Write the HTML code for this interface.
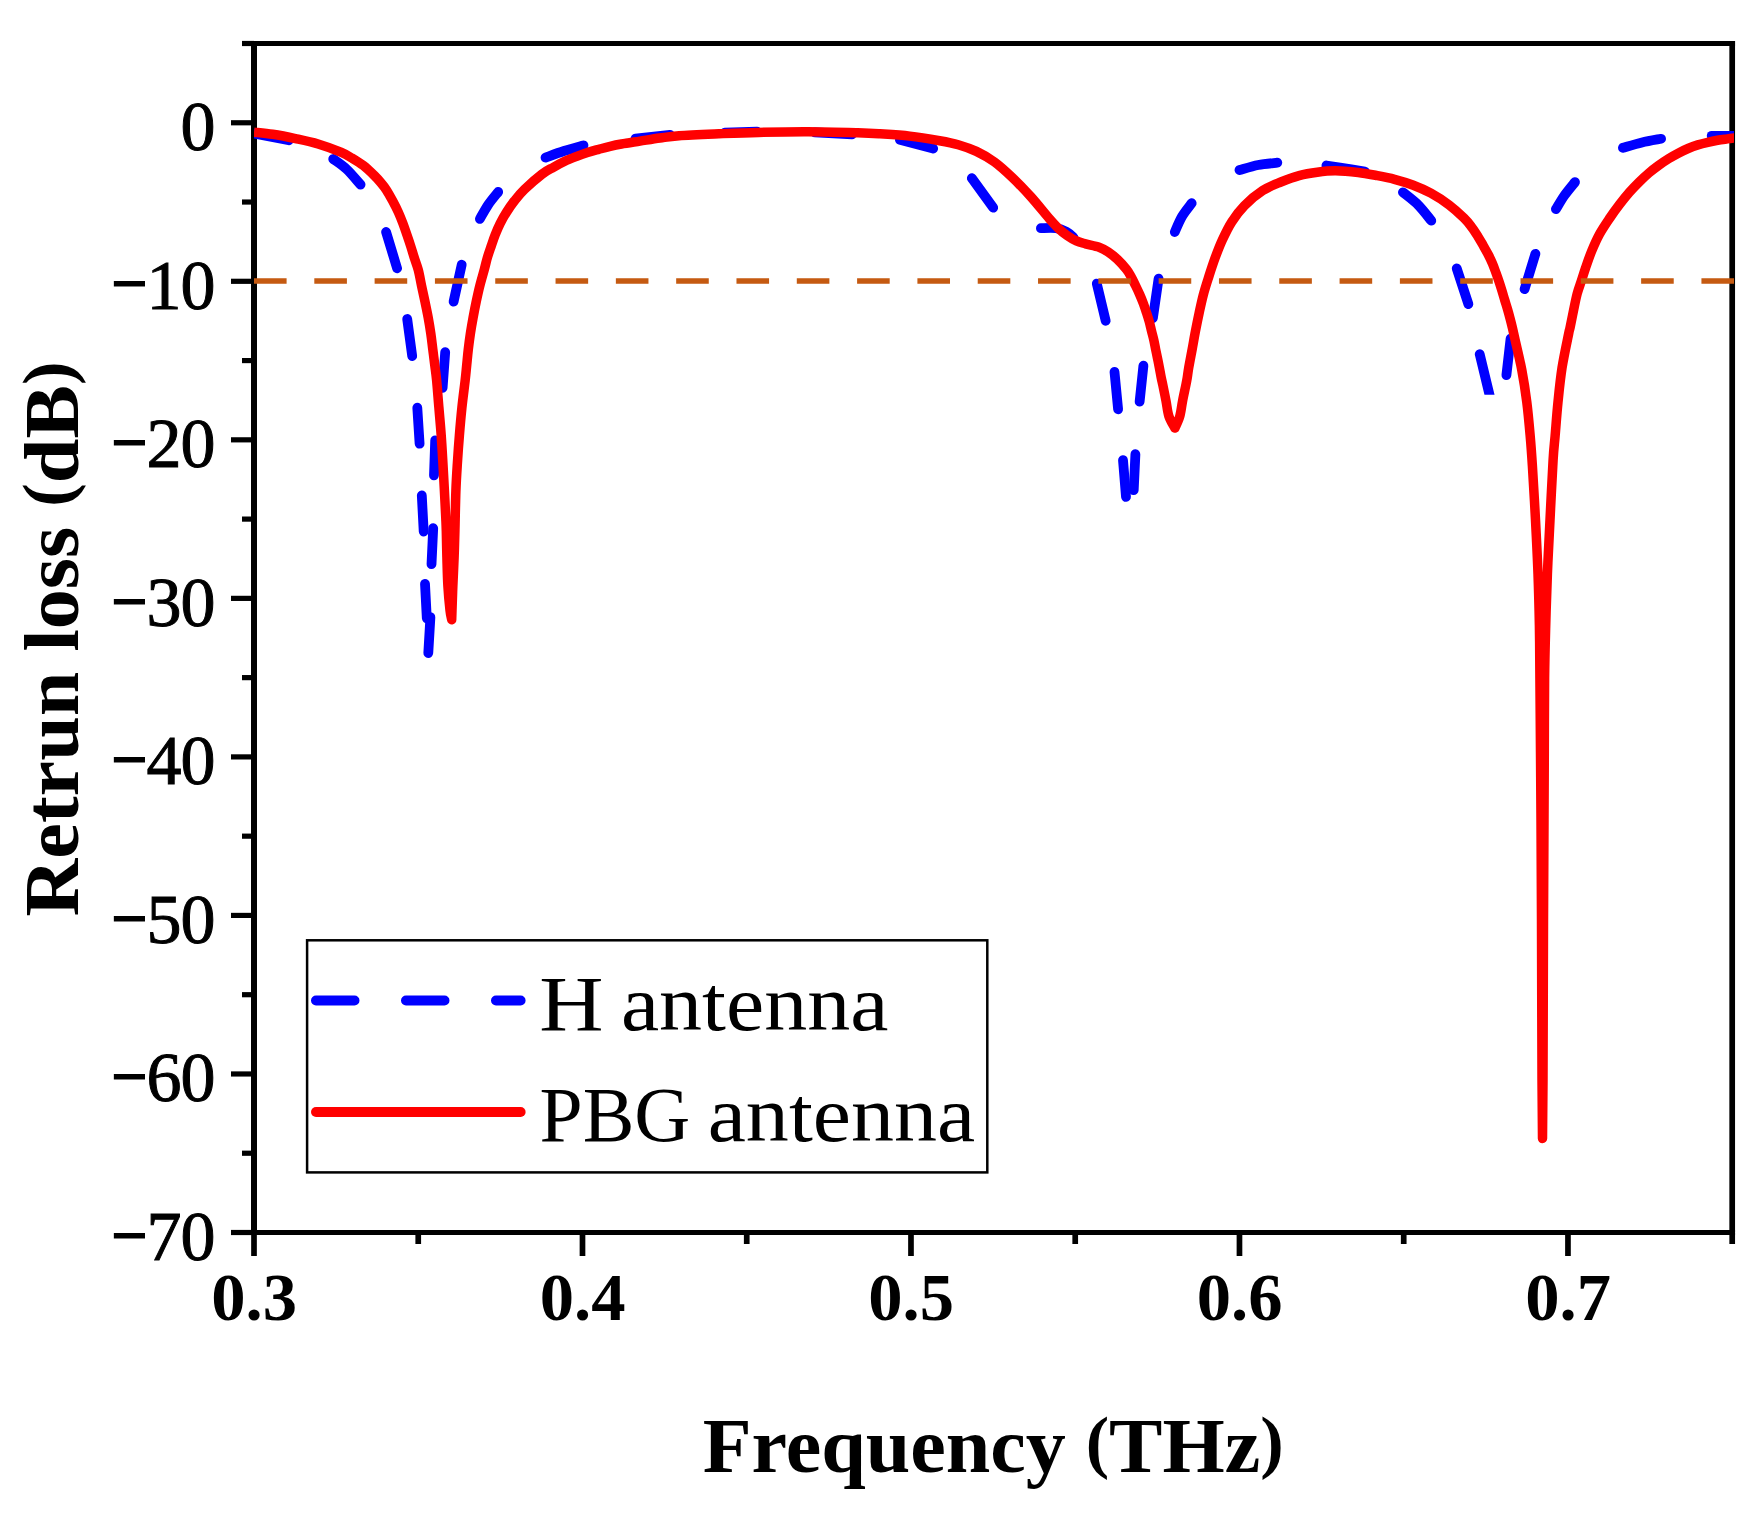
<!DOCTYPE html>
<html lang="en"><head><meta charset="utf-8"><title>Return loss</title>
<style>html,body{margin:0;padding:0;background:#fff}body{width:1763px;height:1518px;overflow:hidden}svg{display:block}text{font-family:"Liberation Serif",serif;fill:#000}</style></head><body>
<svg width="1763" height="1518" viewBox="0 0 1763 1518">
<rect width="1763" height="1518" fill="#fff"/>
<g stroke="#000" stroke-width="5.5" fill="none" stroke-linecap="butt">
<line x1="242.0" y1="43.50" x2="254.0" y2="43.50" stroke-width="5.2"/>
<line x1="231.0" y1="122.77" x2="254.0" y2="122.77" stroke-width="5.2"/>
<line x1="242.0" y1="202.03" x2="254.0" y2="202.03" stroke-width="5.2"/>
<line x1="231.0" y1="281.30" x2="254.0" y2="281.30" stroke-width="5.2"/>
<line x1="242.0" y1="360.57" x2="254.0" y2="360.57" stroke-width="5.2"/>
<line x1="231.0" y1="439.83" x2="254.0" y2="439.83" stroke-width="5.2"/>
<line x1="242.0" y1="519.10" x2="254.0" y2="519.10" stroke-width="5.2"/>
<line x1="231.0" y1="598.37" x2="254.0" y2="598.37" stroke-width="5.2"/>
<line x1="242.0" y1="677.63" x2="254.0" y2="677.63" stroke-width="5.2"/>
<line x1="231.0" y1="756.90" x2="254.0" y2="756.90" stroke-width="5.2"/>
<line x1="242.0" y1="836.17" x2="254.0" y2="836.17" stroke-width="5.2"/>
<line x1="231.0" y1="915.43" x2="254.0" y2="915.43" stroke-width="5.2"/>
<line x1="242.0" y1="994.70" x2="254.0" y2="994.70" stroke-width="5.2"/>
<line x1="231.0" y1="1073.97" x2="254.0" y2="1073.97" stroke-width="5.2"/>
<line x1="242.0" y1="1153.23" x2="254.0" y2="1153.23" stroke-width="5.2"/>
<line x1="231.0" y1="1232.50" x2="254.0" y2="1232.50" stroke-width="5.2"/>
<line x1="254.00" y1="1232.5" x2="254.00" y2="1256.0" stroke-width="5.7"/>
<line x1="418.24" y1="1232.5" x2="418.24" y2="1244.0" stroke-width="5.7"/>
<line x1="582.49" y1="1232.5" x2="582.49" y2="1256.0" stroke-width="5.7"/>
<line x1="746.73" y1="1232.5" x2="746.73" y2="1244.0" stroke-width="5.7"/>
<line x1="910.98" y1="1232.5" x2="910.98" y2="1256.0" stroke-width="5.7"/>
<line x1="1075.22" y1="1232.5" x2="1075.22" y2="1244.0" stroke-width="5.7"/>
<line x1="1239.47" y1="1232.5" x2="1239.47" y2="1256.0" stroke-width="5.7"/>
<line x1="1403.71" y1="1232.5" x2="1403.71" y2="1244.0" stroke-width="5.7"/>
<line x1="1567.96" y1="1232.5" x2="1567.96" y2="1256.0" stroke-width="5.7"/>
<line x1="1732.20" y1="1232.5" x2="1732.20" y2="1244.0" stroke-width="5.7"/>
<line x1="254.00" y1="40.90" x2="254.00" y2="1232.50" stroke-width="6"/>
<line x1="1732.20" y1="40.90" x2="1732.20" y2="1232.50" stroke-width="5.7"/>
<line x1="254.00" y1="43.50" x2="1735.05" y2="43.50" stroke-width="5.2"/>
<line x1="254.00" y1="1232.50" x2="1735.05" y2="1232.50" stroke-width="4.8"/>
</g>
<clipPath id="plot"><rect x="254" y="0" width="1480.1" height="1518"/></clipPath><g clip-path="url(#plot)">
<g stroke="#0000FF" stroke-width="9.8" fill="none" stroke-linecap="round" stroke-linejoin="round">
<path d="M254.0 133.5 L288.9 140.3"/>
<path d="M333.20 159.00 C335.40 160.67 341.83 164.73 346.40 169.00 C350.97 173.27 358.23 182.00 360.60 184.60"/>
<path d="M386.1 232.0 L397.1 268.3"/>
<path d="M407.2 319.0 L412.2 356.1"/>
<path d="M417.3 407.7 L419.6 443.7"/>
<path d="M421.8 495.5 L423.7 531.5"/>
<path d="M425.0 583.8 L426.8 618.3"/>
<path d="M430.4 617.1 L428.3 653.0"/>
<path d="M433.2 528.2 L431.5 564.2"/>
<path d="M435.2 440.4 L434.0 475.3"/>
<path d="M445.2 352.2 L442.6 387.8"/>
<path d="M461.7 264.7 L453.6 301.6"/>
<path d="M498.20 191.90 C496.53 194.03 491.25 200.20 488.20 204.70 C485.15 209.20 481.28 216.53 479.90 218.90"/>
<path d="M545.50 157.60 C548.58 156.50 557.67 153.03 564.00 151.00 C570.33 148.97 580.25 146.33 583.50 145.40"/>
<path d="M635.5 138.6 L670.0 134.9"/>
<path d="M724.8 132.6 L757.0 131.6"/>
<path d="M815.0 132.4 L852.0 134.4"/>
<path d="M899.9 139.7 L933.2 148.6"/>
<path d="M971.8 178.2 L993.2 207.7"/>
<path d="M1040.90 228.20 C1043.42 228.20 1051.73 227.60 1056.00 228.20 C1060.27 228.80 1063.58 230.25 1066.50 231.80 C1069.42 233.35 1072.33 236.55 1073.50 237.50"/>
<path d="M1096.8 283.6 L1105.7 320.8"/>
<path d="M1114.5 371.9 L1118.1 409.3"/>
<path d="M1123.0 460.1 L1126.0 496.9"/>
<path d="M1133.7 490.2 L1135.4 454.2"/>
<path d="M1139.6 401.7 L1143.4 365.7"/>
<path d="M1158.6 278.6 L1152.9 318.0"/>
<path d="M1191.70 203.20 C1190.08 205.42 1184.82 211.70 1182.00 216.50 C1179.18 221.30 1176.00 229.42 1174.80 232.00"/>
<path d="M1239.50 170.00 C1242.62 169.17 1251.90 166.22 1258.20 165.00 C1264.50 163.78 1274.12 163.08 1277.30 162.70"/>
<path d="M1326.40 165.50 C1328.67 165.85 1333.60 166.60 1340.00 167.60 C1346.40 168.60 1360.67 170.85 1364.80 171.50"/>
<path d="M1402.90 192.30 C1405.48 194.45 1413.67 200.47 1418.40 205.20 C1423.13 209.93 1429.15 218.12 1431.30 220.70"/>
<path d="M1456.7 268.4 L1468.4 304.1"/>
<path d="M1506.4 375.1 L1510.6 338.6"/>
<path d="M1524.6 289.1 L1535.4 253.8"/>
<path d="M1555.90 209.20 C1557.32 206.92 1561.22 200.02 1564.40 195.50 C1567.58 190.98 1573.23 184.33 1575.00 182.10"/>
<path d="M1622.90 147.80 C1626.08 146.90 1635.63 143.90 1642.00 142.40 C1648.37 140.90 1657.92 139.40 1661.10 138.80"/>
<path d="M1711.7 135.8 L1740.0 135.8"/>
</g>
<clipPath id="cm"><rect x="1400" y="300" width="200" height="94.7"/></clipPath><path d="M1479.7 354.2 L1489.6 395.2" stroke="#0000FF" stroke-width="9.8" fill="none" stroke-linecap="round" clip-path="url(#cm)"/>
<path d="M254.00 132.10 C257.12 132.47 265.80 133.22 272.70 134.30 C279.60 135.38 287.83 136.98 295.40 138.60 C302.97 140.22 310.53 141.73 318.10 144.00 C325.67 146.27 335.13 149.83 340.80 152.20 C346.47 154.57 348.33 155.97 352.10 158.20 C355.87 160.43 359.62 162.63 363.40 165.60 C367.18 168.57 371.90 173.17 374.80 176.00 C377.70 178.83 378.88 180.30 380.80 182.60 C382.72 184.90 384.33 186.77 386.30 189.80 C388.27 192.83 390.60 197.08 392.60 200.80 C394.60 204.52 396.58 208.33 398.30 212.10 C400.02 215.87 401.47 219.62 402.90 223.40 C404.33 227.18 405.60 231.02 406.90 234.80 C408.20 238.58 409.48 242.32 410.70 246.10 C411.92 249.88 412.93 253.52 414.20 257.50 C415.47 261.48 417.07 265.27 418.30 270.00 C419.53 274.73 420.48 280.60 421.60 285.90 C422.72 291.20 423.90 296.52 425.00 301.80 C426.10 307.08 427.23 312.32 428.20 317.60 C429.17 322.88 430.03 328.20 430.80 333.50 C431.57 338.80 432.13 344.10 432.80 349.40 C433.47 354.70 434.17 360.20 434.80 365.30 C435.43 370.40 435.92 372.93 436.60 380.00 C437.28 387.07 438.13 398.48 438.90 407.70 C439.67 416.92 440.53 426.08 441.20 435.30 C441.87 444.52 442.37 453.77 442.90 463.00 C443.43 472.23 443.92 481.47 444.40 490.70 C444.88 499.93 445.48 511.67 445.80 518.40 C446.12 525.13 446.12 524.58 446.30 531.10 C446.48 537.62 446.63 548.37 446.90 557.50 C447.17 566.63 447.38 577.12 447.90 585.90 C448.42 594.68 449.37 604.57 450.00 610.20 C450.63 615.83 451.42 618.12 451.70 619.70 C451.75 618.12 451.81 615.83 452.00 610.20 C452.19 604.57 452.50 594.68 452.85 585.90 C453.20 577.12 453.76 566.63 454.10 557.50 C454.44 548.37 454.60 542.23 454.90 531.10 C455.20 519.97 455.48 502.05 455.90 490.70 C456.32 479.35 456.82 472.23 457.40 463.00 C457.98 453.77 458.65 444.52 459.40 435.30 C460.15 426.08 460.93 416.92 461.90 407.70 C462.87 398.48 464.40 387.07 465.20 380.00 C466.00 372.93 466.18 370.40 466.70 365.30 C467.22 360.20 467.68 354.70 468.30 349.40 C468.92 344.10 469.60 338.80 470.40 333.50 C471.20 328.20 472.13 322.88 473.10 317.60 C474.07 312.32 475.08 307.08 476.20 301.80 C477.32 296.52 478.45 291.28 479.80 285.90 C481.15 280.52 483.03 274.23 484.30 269.50 C485.57 264.77 486.25 261.40 487.40 257.50 C488.55 253.60 489.90 249.88 491.20 246.10 C492.50 242.32 493.70 238.58 495.20 234.80 C496.70 231.02 498.30 227.18 500.20 223.40 C502.10 219.62 504.22 215.87 506.60 212.10 C508.98 208.33 511.52 204.58 514.50 200.80 C517.48 197.02 519.90 193.85 524.50 189.40 C529.10 184.95 537.28 177.78 542.10 174.10 C546.92 170.42 549.62 169.43 553.40 167.30 C557.18 165.17 561.02 163.08 564.80 161.30 C568.58 159.52 572.32 158.07 576.10 156.60 C579.88 155.13 583.72 153.72 587.50 152.50 C591.28 151.28 595.02 150.33 598.80 149.30 C602.58 148.27 606.42 147.18 610.20 146.30 C613.98 145.42 616.53 144.87 621.50 144.00 C626.47 143.13 633.58 142.10 640.00 141.10 C646.42 140.10 653.48 138.90 660.00 138.00 C666.52 137.10 669.30 136.40 679.10 135.70 C688.90 135.00 705.57 134.35 718.80 133.80 C732.03 133.25 743.60 132.73 758.50 132.40 C773.40 132.07 791.65 131.73 808.20 131.80 C824.75 131.87 845.83 132.47 857.80 132.80 C869.77 133.13 871.33 133.25 880.00 133.80 C888.67 134.35 899.87 134.95 909.80 136.10 C919.73 137.25 931.53 139.27 939.60 140.70 C947.67 142.13 952.07 142.92 958.20 144.70 C964.33 146.48 970.35 148.52 976.40 151.40 C982.45 154.28 988.45 157.58 994.50 162.00 C1000.55 166.42 1006.63 172.10 1012.70 177.90 C1018.77 183.70 1024.83 190.05 1030.90 196.80 C1036.97 203.55 1044.55 213.17 1049.10 218.40 C1053.65 223.63 1055.17 225.33 1058.20 228.20 C1061.23 231.07 1064.27 233.48 1067.30 235.60 C1070.33 237.72 1073.37 239.53 1076.40 240.90 C1079.43 242.27 1081.72 242.75 1085.50 243.80 C1089.28 244.85 1095.32 245.83 1099.10 247.20 C1102.88 248.57 1105.17 249.98 1108.20 252.00 C1111.23 254.02 1114.27 256.42 1117.30 259.30 C1120.33 262.18 1124.13 266.45 1126.40 269.30 C1128.67 272.15 1129.38 273.70 1130.90 276.40 C1132.42 279.10 1134.03 282.48 1135.50 285.50 C1136.97 288.52 1138.38 291.48 1139.70 294.50 C1141.02 297.52 1142.27 300.57 1143.40 303.60 C1144.53 306.63 1145.52 309.67 1146.50 312.70 C1147.48 315.73 1148.47 318.77 1149.30 321.80 C1150.13 324.83 1150.75 327.87 1151.50 330.90 C1152.25 333.93 1153.12 336.97 1153.80 340.00 C1154.48 343.03 1154.98 346.07 1155.60 349.10 C1156.22 352.13 1156.88 355.17 1157.50 358.20 C1158.12 361.23 1158.67 364.00 1159.30 367.30 C1159.93 370.60 1160.70 374.98 1161.30 378.00 C1161.90 381.02 1162.12 381.60 1162.90 385.40 C1163.68 389.20 1165.00 395.67 1166.00 400.80 C1167.00 405.93 1167.42 411.65 1168.90 416.20 C1170.38 420.75 1173.90 426.12 1174.90 428.10 C1175.72 426.12 1178.52 420.75 1179.80 416.20 C1181.08 411.65 1181.60 405.93 1182.60 400.80 C1183.60 395.67 1185.03 389.20 1185.80 385.40 C1186.57 381.60 1186.70 381.02 1187.20 378.00 C1187.70 374.98 1187.97 372.12 1188.80 367.30 C1189.63 362.48 1191.08 355.17 1192.20 349.10 C1193.32 343.03 1194.33 336.97 1195.50 330.90 C1196.67 324.83 1197.88 318.77 1199.20 312.70 C1200.52 306.63 1201.82 300.45 1203.40 294.50 C1204.98 288.55 1206.77 283.05 1208.70 277.00 C1210.63 270.95 1212.73 264.37 1215.00 258.20 C1217.27 252.03 1219.50 246.07 1222.30 240.00 C1225.10 233.93 1228.10 227.53 1231.80 221.80 C1235.50 216.07 1239.35 210.80 1244.50 205.60 C1249.65 200.40 1256.63 194.53 1262.70 190.60 C1268.77 186.67 1274.83 184.50 1280.90 182.00 C1286.97 179.50 1293.03 177.23 1299.10 175.60 C1305.17 173.97 1311.23 173.00 1317.30 172.20 C1323.37 171.40 1328.68 170.75 1335.50 170.80 C1342.32 170.85 1351.38 171.72 1358.20 172.50 C1365.02 173.28 1370.35 174.37 1376.40 175.50 C1382.45 176.63 1388.45 177.72 1394.50 179.30 C1400.55 180.88 1406.63 182.68 1412.70 185.00 C1418.77 187.32 1424.83 189.87 1430.90 193.20 C1436.97 196.53 1443.57 200.83 1449.10 205.00 C1454.63 209.17 1460.32 214.48 1464.10 218.20 C1467.88 221.92 1469.50 224.27 1471.80 227.30 C1474.10 230.33 1476.00 233.37 1477.90 236.40 C1479.80 239.43 1481.48 242.48 1483.20 245.50 C1484.92 248.52 1486.65 251.48 1488.20 254.50 C1489.75 257.52 1491.22 260.57 1492.50 263.60 C1493.78 266.63 1494.80 269.67 1495.90 272.70 C1497.00 275.73 1498.08 278.77 1499.10 281.80 C1500.12 284.83 1501.07 287.87 1502.00 290.90 C1502.93 293.93 1503.78 296.97 1504.70 300.00 C1505.62 303.03 1506.62 306.07 1507.50 309.10 C1508.38 312.13 1509.20 315.17 1510.00 318.20 C1510.80 321.23 1511.52 324.00 1512.30 327.30 C1513.08 330.60 1513.12 330.88 1514.70 338.00 C1516.28 345.12 1519.78 359.32 1521.80 370.00 C1523.82 380.68 1525.40 391.08 1526.80 402.10 C1528.20 413.12 1529.27 425.45 1530.20 436.10 C1531.13 446.75 1531.52 452.02 1532.40 466.00 C1533.28 479.98 1534.57 502.03 1535.50 520.00 C1536.43 537.97 1537.35 556.13 1538.00 573.80 C1538.65 591.47 1539.08 608.63 1539.40 626.00 C1539.72 643.37 1539.72 657.00 1539.90 678.00 C1540.08 699.00 1540.32 728.33 1540.50 752.00 C1540.68 775.67 1540.83 792.00 1541.00 820.00 C1541.17 848.00 1541.33 876.67 1541.50 920.00 C1541.67 963.33 1541.83 1043.58 1542.00 1080.00 C1542.17 1116.42 1542.42 1128.75 1542.50 1138.50 C1542.58 1128.75 1542.83 1116.42 1543.00 1080.00 C1543.17 1043.58 1543.33 963.33 1543.50 920.00 C1543.67 876.67 1543.87 848.00 1544.00 820.00 C1544.13 792.00 1544.20 775.67 1544.30 752.00 C1544.40 728.33 1544.37 699.00 1544.60 678.00 C1544.83 657.00 1545.23 643.37 1545.70 626.00 C1546.17 608.63 1546.68 591.47 1547.40 573.80 C1548.12 556.13 1549.05 538.97 1550.00 520.00 C1550.95 501.03 1552.25 473.98 1553.10 460.00 C1553.95 446.02 1554.28 445.75 1555.10 436.10 C1555.92 426.45 1556.85 413.43 1558.00 402.10 C1559.15 390.77 1560.23 379.45 1562.00 368.10 C1563.77 356.75 1567.25 340.75 1568.60 334.00 C1569.95 327.25 1569.28 331.50 1570.10 327.60 C1570.92 323.70 1572.32 316.27 1573.50 310.60 C1574.68 304.93 1575.88 298.57 1577.20 293.60 C1578.52 288.63 1580.02 285.05 1581.40 280.80 C1582.78 276.55 1583.78 273.07 1585.50 268.10 C1587.22 263.13 1589.35 256.68 1591.70 251.00 C1594.05 245.32 1596.58 239.50 1599.60 234.00 C1602.62 228.50 1606.50 222.88 1609.80 218.00 C1613.10 213.12 1616.15 208.97 1619.40 204.70 C1622.65 200.43 1626.02 196.17 1629.30 192.40 C1632.58 188.63 1635.83 185.33 1639.10 182.10 C1642.37 178.87 1645.63 175.78 1648.90 173.00 C1652.17 170.22 1655.43 167.77 1658.70 165.40 C1661.97 163.03 1665.23 160.83 1668.50 158.80 C1671.77 156.77 1675.03 154.92 1678.30 153.20 C1681.57 151.48 1684.83 149.88 1688.10 148.50 C1691.37 147.12 1694.62 145.93 1697.90 144.90 C1701.18 143.87 1704.52 143.07 1707.80 142.30 C1711.08 141.53 1714.33 140.87 1717.60 140.30 C1720.87 139.73 1724.33 139.32 1727.40 138.90 C1730.47 138.48 1734.57 137.98 1736.00 137.80" stroke="#FF0000" stroke-width="9.5" fill="none" stroke-linecap="butt" stroke-linejoin="round"/>
<line x1="254" y1="281" x2="1740" y2="281" stroke="#C55A11" stroke-width="5.6" stroke-dasharray="32.6 27.71"/>
</g>
<rect x="307.1" y="940.3" width="680.2" height="232.1" fill="#fff" stroke="#000" stroke-width="2.5"/>
<line x1="316" y1="1000.5" x2="520.6" y2="1000.5" stroke="#0000FF" stroke-width="10" stroke-linecap="round" stroke-dasharray="38.5 51.5"/>
<line x1="316" y1="1112" x2="520.6" y2="1112" stroke="#FF0000" stroke-width="10" stroke-linecap="round"/>
<text y="1029.8" font-size="79.2"><tspan x="539.3" textLength="64.3" lengthAdjust="spacingAndGlyphs">H</tspan> <tspan x="620.9" textLength="267.5" lengthAdjust="spacingAndGlyphs">antenna</tspan></text>
<text y="1141.1" font-size="79.2"><tspan x="539.6" textLength="150.7" lengthAdjust="spacingAndGlyphs">PBG</tspan> <tspan x="707.7" textLength="267.5" lengthAdjust="spacingAndGlyphs">antenna</tspan></text>
<text x="180.6" y="150.0" font-size="70" stroke="#000" stroke-width="1">0</text>
<text font-size="70" stroke="#000" stroke-width="1"><tspan x="111.5" y="307.4" stroke-width="1.8" textLength="35.8" lengthAdjust="spacingAndGlyphs">−</tspan><tspan x="146.4 180.6" y="308.5">10</tspan></text>
<text font-size="70" stroke="#000" stroke-width="1"><tspan x="111.5" y="465.9" stroke-width="1.8" textLength="35.8" lengthAdjust="spacingAndGlyphs">−</tspan><tspan x="146.4 180.6" y="467.0">20</tspan></text>
<text font-size="70" stroke="#000" stroke-width="1"><tspan x="111.5" y="624.5" stroke-width="1.8" textLength="35.8" lengthAdjust="spacingAndGlyphs">−</tspan><tspan x="146.4 180.6" y="625.6">30</tspan></text>
<text font-size="70" stroke="#000" stroke-width="1"><tspan x="111.5" y="783.0" stroke-width="1.8" textLength="35.8" lengthAdjust="spacingAndGlyphs">−</tspan><tspan x="146.4 180.6" y="784.1">40</tspan></text>
<text font-size="70" stroke="#000" stroke-width="1"><tspan x="111.5" y="941.5" stroke-width="1.8" textLength="35.8" lengthAdjust="spacingAndGlyphs">−</tspan><tspan x="146.4 180.6" y="942.6">50</tspan></text>
<text font-size="70" stroke="#000" stroke-width="1"><tspan x="111.5" y="1100.1" stroke-width="1.8" textLength="35.8" lengthAdjust="spacingAndGlyphs">−</tspan><tspan x="146.4 180.6" y="1101.2">60</tspan></text>
<text font-size="70" stroke="#000" stroke-width="1"><tspan x="111.5" y="1258.6" stroke-width="1.8" textLength="35.8" lengthAdjust="spacingAndGlyphs">−</tspan><tspan x="146.4 180.6" y="1259.7">70</tspan></text>
<text x="254.1" y="1319.6" font-size="68.6" font-weight="bold" text-anchor="middle">0.3</text>
<text x="582.6" y="1319.6" font-size="68.6" font-weight="bold" text-anchor="middle">0.4</text>
<text x="911.1" y="1319.6" font-size="68.6" font-weight="bold" text-anchor="middle">0.5</text>
<text x="1239.6" y="1319.6" font-size="68.6" font-weight="bold" text-anchor="middle">0.6</text>
<text x="1568.1" y="1319.6" font-size="68.6" font-weight="bold" text-anchor="middle">0.7</text>
<text x="702.7" y="1471.5" font-size="78.5" font-weight="bold" textLength="581" lengthAdjust="spacingAndGlyphs">Frequency <tspan font-size="69" dy="-6.6">(</tspan><tspan dy="6.6">THz</tspan><tspan font-size="69" dy="-6.6">)</tspan></text>
<text transform="translate(77.8 916.6) rotate(-90)" font-size="79" font-weight="bold" textLength="555" lengthAdjust="spacingAndGlyphs">Retrun loss <tspan font-size="69.5" dy="-6.7">(</tspan><tspan dy="6.7">dB</tspan><tspan font-size="69.5" dy="-6.7">)</tspan></text>
</svg></body></html>
